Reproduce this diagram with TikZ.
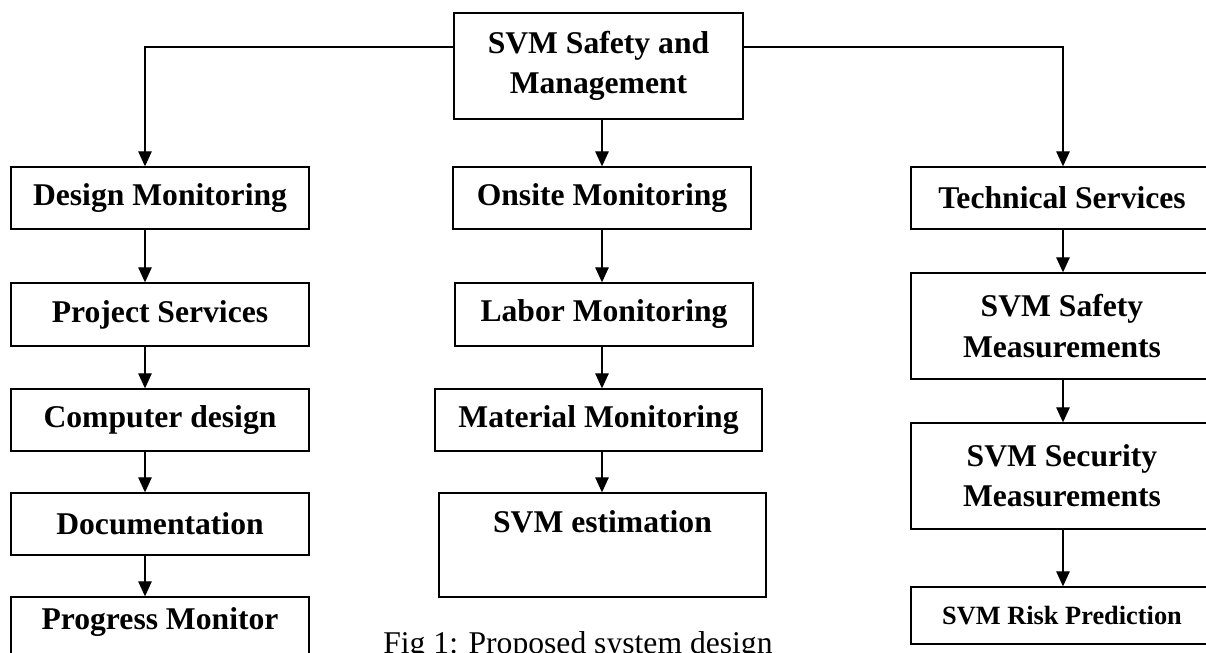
\documentclass[tikz,border=0pt]{standalone}
\usepackage{fontspec}
\setmainfont{Liberation Serif}
\usetikzlibrary{arrows.meta}

\tikzset{
  box/.style={draw, line width=0.75pt, align=center, inner sep=0pt,
    font=\bfseries\fontsize{18}{23}\selectfont},
  arr/.style={line width=0.75pt, -{Triangle[length=0.3cm,width=0.27cm]}}
}

\begin{document}
\begin{tikzpicture}
        \clip (0,0) rectangle (24.12,13.06);

        % Define the root
        \node[box, minimum width=5.78cm, minimum height=2.12cm] (root) at (11.97,11.74) {SVM Safety and\\Management};

        % Define the left column
        \node[box, minimum width=5.96cm, minimum height=1.24cm] (dm) at (3.20,9.10) {Design Monitoring};
        \node[box, minimum width=5.96cm, minimum height=1.26cm] (ps) at (3.20,6.77) {Project Services};
        \node[box, minimum width=5.96cm, minimum height=1.24cm] (cd) at (3.20,4.66) {Computer design};
        \node[box, minimum width=5.96cm, minimum height=1.24cm] (doc) at (3.20,2.58) {Documentation};
        \node[box, minimum width=5.96cm, anchor=base, text height=0.66cm, text depth=1cm] (pm) at (3.20,0.46) {Progress Monitor};

        % Define the middle column
        \node[box, minimum width=5.96cm, minimum height=1.24cm] (om) at (12.04,9.10) {Onsite Monitoring};
        \node[box, minimum width=5.96cm, minimum height=1.26cm] (lm) at (12.08,6.77) {Labor Monitoring};
        \node[box, minimum width=6.54cm, minimum height=1.24cm] (mm) at (11.97,4.66) {Material Monitoring};
        \node[box, minimum width=6.54cm, anchor=base, text height=0.80cm, text depth=1.28cm] (se) at (12.05,2.40) {SVM estimation};

        % Define the right column
        \node[box, minimum width=6.04cm, minimum height=1.24cm] (ts) at (21.24,9.10) {Technical Services};
        \node[box, minimum width=6.04cm, minimum height=2.12cm] (sfm) at (21.24,6.54) {SVM Safety\\Measurements};
        \node[box, minimum width=6.04cm, minimum height=2.12cm] (scm) at (21.24,3.54) {SVM Security\\Measurements};
        \node[box, minimum width=6.04cm, minimum height=1.14cm, font=\bfseries\fontsize{15}{18}\selectfont] (rp) at (21.24,0.75) {SVM Risk Prediction};

        % Define the caption
        \node[anchor=base west, inner sep=0pt, font=\fontsize{18}{22}\selectfont] (cap) at (7.66,-0.02) {Fig 1: Proposed system design};

        % Define the arrow columns
        \coordinate (colA) at (2.90,12.12);
        \coordinate (colB) at (12.04,12.12);
        \coordinate (colC) at (21.26,12.12);

        % Define the edges
        \draw[arr] (root.west |- colA) -| (dm.north -| colA);
        \draw[arr] (root.east |- colC) -| (ts.north -| colC);
        \draw[arr] (root.south -| colB) -- (om.north -| colB);

        \draw[arr] (dm.south -| colA) -- (ps.north -| colA);
        \draw[arr] (ps.south -| colA) -- (cd.north -| colA);
        \draw[arr] (cd.south -| colA) -- (doc.north -| colA);
        \draw[arr] (doc.south -| colA) -- (pm.north -| colA);

        \draw[arr] (om.south -| colB) -- (lm.north -| colB);
        \draw[arr] (lm.south -| colB) -- (mm.north -| colB);
        \draw[arr] (mm.south -| colB) -- (se.north -| colB);

        \draw[arr] (ts.south -| colC) -- (sfm.north -| colC);
        \draw[arr] (sfm.south -| colC) -- (scm.north -| colC);
        \draw[arr] (scm.south -| colC) -- (rp.north -| colC);
    \end{tikzpicture}
\end{document}
